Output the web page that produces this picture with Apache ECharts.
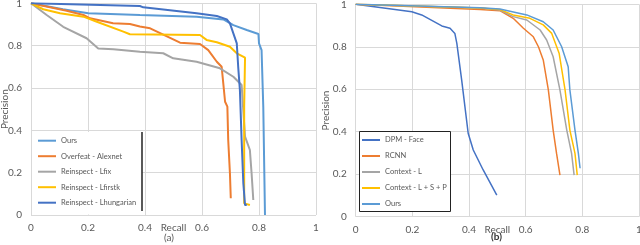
<!DOCTYPE html>
<html>
<head>
<meta charset="utf-8">
<script src="https://cdn.jsdelivr.net/npm/echarts@6/dist/echarts.min.js"></script>
<style>html,body{margin:0;padding:0;background:#fff}#c{width:640px;height:245px}</style>
</head>
<body>
<div id="c"></div>
<script>
// ---- Panel (a) data: [recall, precision]
const oursA = [[0,1],[0.112,0.972],[0.201,0.953],[0.382,0.945],[0.581,0.937],[0.675,0.924],[0.71,0.897],[0.757,0.874],[0.798,0.855],[0.8,0.811],[0.809,0.779],[0.815,0.512],[0.821,0]];
const overfeatA = [[0,1],[0.125,0.965],[0.184,0.945],[0.207,0.929],[0.288,0.906],[0.347,0.902],[0.382,0.89],[0.418,0.882],[0.523,0.814],[0.593,0.808],[0.622,0.779],[0.652,0.724],[0.669,0.7],[0.681,0.535],[0.689,0.512],[0.692,0.354],[0.698,0.197],[0.701,0.079]];
const lfixA = [[0,1],[0.055,0.945],[0.113,0.889],[0.195,0.835],[0.236,0.787],[0.289,0.783],[0.382,0.771],[0.464,0.764],[0.499,0.74],[0.581,0.724],[0.663,0.693],[0.71,0.653],[0.739,0.614],[0.751,0.37],[0.768,0.307],[0.774,0.197],[0.78,0.071]];
const lfirstkA = [[0,1],[0.043,0.972],[0.102,0.953],[0.184,0.937],[0.231,0.913],[0.324,0.866],[0.347,0.854],[0.593,0.85],[0.616,0.827],[0.652,0.816],[0.698,0.795],[0.722,0.764],[0.751,0.743],[0.748,0.512],[0.748,0.055],[0.768,0.047]];
const hungarianA = [[0,1],[0.382,0.987],[0.394,0.981],[0.581,0.953],[0.652,0.94],[0.687,0.924],[0.698,0.905],[0.71,0.858],[0.722,0.811],[0.727,0.7],[0.733,0.59],[0.739,0.354],[0.745,0.15],[0.751,0.047],[0.757,0.047]];
// ---- Panel (b) data
const dpmB = [[0,1],[0.198,0.965],[0.233,0.95],[0.304,0.898],[0.333,0.887],[0.35,0.863],[0.357,0.816],[0.374,0.644],[0.397,0.393],[0.415,0.314],[0.45,0.22],[0.498,0.102]];
const rcnnB = [[0,1],[0.439,0.976],[0.509,0.97],[0.556,0.934],[0.592,0.887],[0.627,0.847],[0.645,0.8],[0.662,0.738],[0.68,0.597],[0.697,0.408],[0.709,0.298],[0.721,0.196]];
const contextLB = [[0,1],[0.439,0.983],[0.509,0.973],[0.556,0.942],[0.604,0.926],[0.651,0.879],[0.674,0.832],[0.697,0.753],[0.721,0.596],[0.745,0.408],[0.762,0.298],[0.771,0.196]];
const contextLSPB = [[0,1],[0.439,0.983],[0.509,0.975],[0.556,0.95],[0.615,0.934],[0.662,0.903],[0.692,0.863],[0.718,0.77],[0.739,0.597],[0.756,0.408],[0.774,0.298],[0.782,0.196]];
const oursB = [[0,1],[0.439,0.984],[0.509,0.978],[0.604,0.95],[0.662,0.918],[0.697,0.879],[0.727,0.8],[0.75,0.706],[0.756,0.597],[0.774,0.408],[0.786,0.298],[0.792,0.228]];

const namesA = ['Ours','Overfeat - Alexnet','Reinspect - Lfix','Reinspect - Lfirstk','Reinspect - Lhungarian'];
const namesB = ['DPM - Face','RCNN','Context - L','Context - L + S + P','Ours '];
const xTitle = 'Recall', yTitle = 'Precision';
const captions = ['(a)','(b)'];

const FONT = 'Lato';
const C = {blue:'#4472C4', orange:'#ED7D31', gray:'#A5A5A5', yellow:'#FFC000', light:'#5B9BD5'};

function xAx(gi){return {type:'value',gridIndex:gi,min:0,max:1,interval:0.2,
  name:xTitle,nameLocation:'middle',nameGap:13,nameMoveOverlap:false,
  nameTextStyle:{color:'#595959',fontSize:10,fontFamily:FONT,verticalAlign:'middle'},
  axisLine:{show:false},axisTick:{show:false},
  axisLabel:{color:'#595959',fontSize:10,fontFamily:FONT,margin:8,formatter:v=>String(+v.toFixed(1))},
  splitLine:{show:true,lineStyle:{color:'#d9d9d9',width:1}}};}
function yAx(gi,gap){return {type:'value',gridIndex:gi,min:0,max:1,interval:0.2,
  name:yTitle,nameLocation:'middle',nameGap:gap,nameMoveOverlap:false,
  nameTextStyle:{color:'#595959',fontSize:10,fontFamily:FONT,verticalAlign:'middle'},
  axisLine:{show:false},axisTick:{show:false},
  axisLabel:{color:'#595959',fontSize:10,fontFamily:FONT,margin:9,formatter:v=>String(+v.toFixed(1))},
  splitLine:{show:true,lineStyle:{color:'#d9d9d9',width:1}}};}
function ser(name,data,color,gi,w){return {name,type:'line',data,xAxisIndex:gi,yAxisIndex:gi,
  symbol:'none',lineStyle:{color,width:w},itemStyle:{color},animation:false};}

const chart = echarts.init(document.getElementById('c'),null,{renderer:'canvas'});
chart.setOption({
  animation:false,
  grid:[{left:31,top:3.3,width:285,height:211.7,outerBoundsMode:'none',containLabel:false},
        {left:355.7,top:4.3,width:283.3,height:212.4,outerBoundsMode:'none',containLabel:false}],
  xAxis:[xAx(0),xAx(1)],
  yAxis:[yAx(0,26),yAx(1,30)],
  legend:[
    {data:namesA,orient:'vertical',left:38,top:134.7,padding:0,icon:'rect',itemWidth:18,itemHeight:2,itemGap:3.5,
     textStyle:{color:'#595959',fontSize:7.5,fontFamily:FONT,lineHeight:12},selectedMode:false,z:10},
    {data:namesB,orient:'vertical',left:362,top:134,padding:0,icon:'rect',itemWidth:18,itemHeight:2,itemGap:4,
     textStyle:{color:'#595959',fontSize:7.5,fontFamily:FONT,lineHeight:12},selectedMode:false,z:10}
  ],
  graphic:[
    {type:'rect',z:5,shape:{x:32,y:132,width:110,height:82.5},style:{fill:'#fff'}},
    {type:'line',z:6,shape:{x1:142,y1:132,x2:142,y2:211},style:{stroke:'#222',lineWidth:1.5}},
    {type:'rect',z:5,shape:{x:359.5,y:131.5,width:91,height:80},style:{fill:'#fff',stroke:'#222',lineWidth:1}},
    {type:'text',z:6,left:164,top:233,style:{text:captions[0],fill:'#595959',font:'10px '+FONT}},
    {type:'text',z:6,left:491,top:232,style:{text:captions[1],fill:'#333',font:'bold 10px '+FONT}}
  ],
  series:[
    ser(namesA[0],oursA,C.light,0,2),
    ser(namesA[1],overfeatA,C.orange,0,2),
    ser(namesA[2],lfixA,C.gray,0,2),
    ser(namesA[3],lfirstkA,C.yellow,0,2),
    ser(namesA[4],hungarianA,C.blue,0,2),
    ser(namesB[0],dpmB,C.blue,1,1.5),
    ser(namesB[1],rcnnB,C.orange,1,1.5),
    ser(namesB[2],contextLB,C.gray,1,1.5),
    ser(namesB[3],contextLSPB,C.yellow,1,1.5),
    ser(namesB[4],oursB,C.light,1,1.5)
  ]
});
</script>
</body>
</html>
